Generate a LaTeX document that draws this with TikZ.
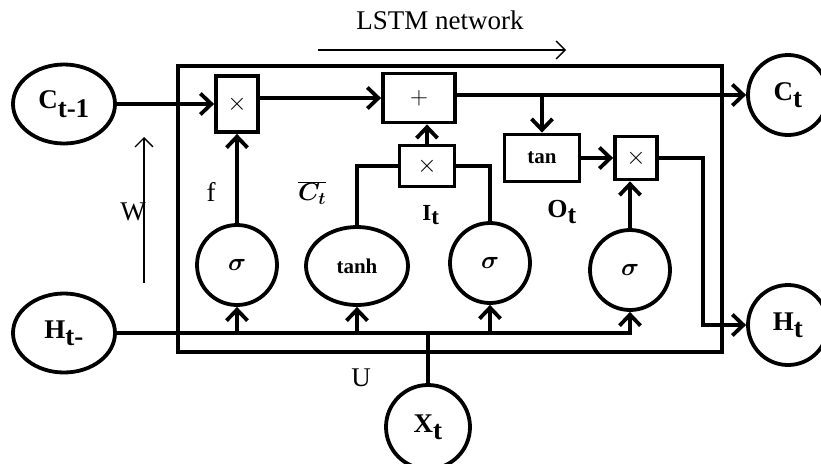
\documentclass[tikz,border=0pt]{standalone}
\usepackage{fontspec}
\setmainfont{Liberation Serif}
\usetikzlibrary{arrows.meta, shapes.geometric}

\begin{document}
\begin{tikzpicture}[
        x=1pt, y=-1pt,
        >={Straight Barb[length=11pt,width=21pt]},
        every node/.style={font=\fontsize{27}{31}\selectfont, align=center, inner sep=0pt},
        state/.style={draw, line width=3.8pt, ellipse, minimum width=102pt, minimum height=79pt, font=\bfseries\fontsize{27}{31}\selectfont},
        outstate/.style={state, circle, minimum size=80pt},
        gatenode/.style={draw, line width=3.8pt, circle, minimum size=80pt, font=\boldmath\fontsize{24}{28}\selectfont},
        actnode/.style={gatenode, ellipse, minimum width=102pt, minimum height=78pt, font=\bfseries\fontsize{21}{25}\selectfont},
        opbox/.style={draw, line width=3.8pt, font=\fontsize{23}{26}\selectfont},
        line/.style={->, line width=3.8pt},
        wire/.style={line width=3.8pt},
        thinline/.style={-{Straight Barb[length=9pt,width=18pt]}, line width=1.3pt}
    ]
        \useasboundingbox (0,0) rectangle (821,463);

        % frame of the cell
        \node[draw, line width=3.8pt, minimum width=544pt, minimum height=286pt] (cell) at (450,209) {};

        % states
        \node[state] (cprev) at (64,104) {C$_{\textbf{t-1}}$};
        \node[state] (hprev) at (64,333) {H$_{\textbf{t-}}$};
        \node[outstate] (cnext) at (788,95) {C$_{\textbf{t}}$};
        \node[outstate] (hnext) at (788,325) {H$_{\textbf{t}}$};
        \node[outstate, minimum size=84pt] (xin) at (428,427) {X$_{\textbf{t}}$};

        % operations
        \node[opbox, minimum width=42pt, minimum height=56pt] (mulf) at (237,104) {$\times$};
        \node[opbox, minimum width=72pt, minimum height=49pt, font=\fontsize{25}{28}\selectfont] (add) at (419,98) {$+$};
        \node[opbox, minimum width=55pt, minimum height=41pt] (muli) at (427,166) {$\times$};
        \node[opbox, minimum width=75pt, minimum height=47pt, font=\bfseries\fontsize{21}{25}\selectfont] (tanc) at (542,158) {tan};
        \node[opbox, minimum width=42pt, minimum height=43pt] (mulo) at (636,158) {$\times$};

        % gates
        \node[gatenode] (sigf) at (237,265) {$\sigma$};
        \node[actnode] (tanhg) at (357,266) {tanh};
        \node[gatenode] (sigi) at (490,263) {$\sigma$};
        \node[gatenode] (sigo) at (630,270) {$\sigma$};

        % labels
        \node (flab) at (211,192) {f};
        \node[font=\boldmath\fontsize{27}{31}\selectfont] (cbar) at (312,193) {$\overline{C_t}$};
        \node[font=\bfseries\fontsize{23}{27}\selectfont] (ilab) at (431,215) {I$_{\textbf{t}}$};
        \node[font=\bfseries\fontsize{26}{30}\selectfont] (olab) at (562,212) {O$_{\textbf{t}}$};
        \node (wlab) at (133,212) {W};
        \node (ulab) at (361,378) {U};
        \node (title) at (440,20) {LSTM network};

        \coordinate (wfoot) at (144,283);
        \coordinate (whead) at (144,137);
        \coordinate (netstart) at (318,50);
        \coordinate (netend) at (566,50);
        \coordinate (hbend) at (703,158);

        \draw[thinline] (wfoot) -- (whead);
        \draw[thinline] (netstart) -- (netend);

        % cell state path
        \draw[line] (cprev) -- (mulf);
        \draw[line] (mulf.east |- add) -- (add.west);
        \draw[line] (add.east |- cnext) -- (cnext.west);
        \draw[line] (tanc.north |- cnext) -- (tanc.north);
        \draw[line] (tanc) -- (mulo);
        \draw[line] (mulo.east) -- (hbend) |- (hnext.west);

        % gate outputs
        \draw[line] (sigf) -- (mulf);
        \draw[wire] (tanhg.north) |- (muli.west);
        \draw[wire] (sigi.north) |- (muli.east);
        \draw[line] (muli.north) -- (muli.north |- add.south);
        \draw[line] (sigo.north) -- (sigo.north |- mulo.south);

        % inputs
        \draw[line] (hprev.east) -| (sigo.south);
        \draw[line] (hprev -| sigf) -- (sigf);
        \draw[line] (hprev -| tanhg) -- (tanhg);
        \draw[line] (hprev -| sigi) -- (sigi);
        \draw[wire] (xin) -- (xin |- hprev);
    \end{tikzpicture}
\end{document}
